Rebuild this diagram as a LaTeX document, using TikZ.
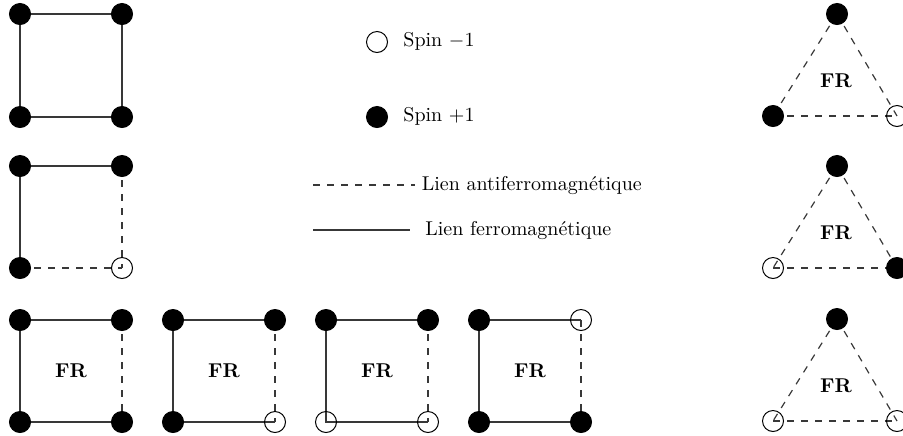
\documentclass[tikz,border=0pt]{standalone}
\pgfdeclarelayer{background}
\pgfsetlayers{background,main}
\begin{document}
\begin{tikzpicture}[x=0.5pt,y=-0.5pt,
  spin/.style={circle,draw=black,line width=0.5pt,minimum size=10.5pt,inner sep=0pt},
  up/.style={spin,fill=black},
  dn/.style={spin},
  ferro/.style={draw=black!78,line width=0.6pt},
  afm/.style={ferro,dash pattern=on 3.5pt off 3.5pt},
  frlbl/.style={font=\bfseries,inner sep=0pt},
  lbl/.style={anchor=base west,inner sep=0pt}]
\useasboundingbox (0,0) rectangle (903,435);

% ---- square A (all ferro, all up)
\node[up] (a1) at (20,14) {};
\node[up] (a2) at (122,14) {};
\node[up] (a3) at (20,117) {};
\node[up] (a4) at (122,117) {};

% ---- square B
\node[up] (b1) at (20,166) {};
\node[up] (b2) at (122,166) {};
\node[up] (b3) at (20,268) {};
\node[dn] (b4) at (122,268) {};

% ---- bottom row squares
\node[up] (c1) at (20,320) {};
\node[up] (c2) at (122,320) {};
\node[up] (c3) at (20,422) {};
\node[up] (c4) at (122,422) {};
\node[frlbl] (cfr) at (71,371) {FR};

\node[up] (d1) at (173,320) {};
\node[up] (d2) at (275,320) {};
\node[up] (d3) at (173,422) {};
\node[dn] (d4) at (275,422) {};
\node[frlbl] (dfr) at (224,371) {FR};

\node[up] (e1) at (326,320) {};
\node[up] (e2) at (428,320) {};
\node[dn] (e3) at (326,422) {};
\node[dn] (e4) at (428,422) {};
\node[frlbl] (efr) at (377,371) {FR};

\node[up] (f1) at (479,320) {};
\node[dn] (f2) at (581,320) {};
\node[up] (f3) at (479,422) {};
\node[up] (f4) at (581,422) {};
\node[frlbl] (ffr) at (530,371) {FR};

% ---- legend
\node[dn] (ldn) at (377,42) {};
\node[lbl] (ldnt) at (403,46.5) {Spin $-1$};
\node[up] (lup) at (377,117) {};
\node[lbl] (lupt) at (403,121.5) {Spin $+1$};
\coordinate (la1) at (313,185);
\coordinate (la2) at (415,185);
\draw[afm] (la1) -- (la2);
\node[lbl] (lat) at (421.5,190) {Lien antiferromagn\'etique};
\coordinate (lf1) at (313,230);
\coordinate (lf2) at (410,230);
\draw[ferro] (lf1) -- (lf2);
\node[lbl] (lft) at (425,235) {Lien ferromagn\'etique};

% ---- triangles
\node[up] (t1a) at (837,14) {};
\node[up] (t1b) at (773,116) {};
\node[dn] (t1c) at (897,116) {};
\node[frlbl] (t1fr) at (836,81) {FR};

\node[up] (t2a) at (837,166) {};
\node[dn] (t2b) at (773,268) {};
\node[up] (t2c) at (897,268) {};
\node[frlbl] (t2fr) at (836,233) {FR};

\node[up] (t3a) at (837,319) {};
\node[dn] (t3b) at (773,421) {};
\node[dn] (t3c) at (897,421) {};
\node[frlbl] (t3fr) at (836,386) {FR};

% ---- bonds (behind the spins)
\begin{pgfonlayer}{background}
\draw[ferro] (a1.center) -- (a2.center) -- (a4.center) -- (a3.center) -- (a1.center);

\draw[ferro] (b3.center) -- (b1.center) -- (b2.center);
\draw[afm] (b2.center) -- (b4.center);
\draw[afm] (b3.center) -- (b4.center);

\draw[ferro] (c4.center) -- (c3.center) -- (c1.center) -- (c2.center);
\draw[afm] (c2.center) -- (c4.center);
\draw[ferro] (d4.center) -- (d3.center) -- (d1.center) -- (d2.center);
\draw[afm] (d2.center) -- (d4.center);
\draw[ferro] (e4.center) -- (e3.center) -- (e1.center) -- (e2.center);
\draw[afm] (e2.center) -- (e4.center);
\draw[ferro] (f4.center) -- (f3.center) -- (f1.center) -- (f2.center);
\draw[afm] (f2.center) -- (f4.center);

\draw[afm] (t1a.center) -- (t1b.center);
\draw[afm] (t1a.center) -- (t1c.center);
\draw[afm] (t1b.center) -- (t1c.center);
\draw[afm] (t2a.center) -- (t2b.center);
\draw[afm] (t2a.center) -- (t2c.center);
\draw[afm] (t2b.center) -- (t2c.center);
\draw[afm] (t3a.center) -- (t3b.center);
\draw[afm] (t3a.center) -- (t3c.center);
\draw[afm] (t3b.center) -- (t3c.center);
\end{pgfonlayer}
\end{tikzpicture}
\end{document}
